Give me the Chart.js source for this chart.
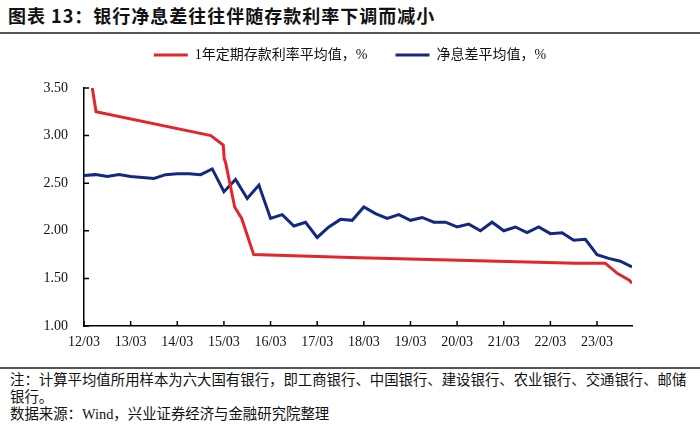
<!DOCTYPE html>
<html>
<head>
<meta charset="utf-8">
<script src="https://cdn.jsdelivr.net/npm/chart.js@4.4.0/dist/chart.umd.min.js"></script>
<style>
  body { margin: 0; width: 700px; height: 427px; background: #fff; position: relative; overflow: hidden;
         font-family: "Liberation Serif", "Noto Sans CJK SC", serif; color: #111; }
  #title { position: absolute; left: 8px; top: 2px; font-size: 18px; font-weight: bold; letter-spacing: 1px;
           font-family: "Noto Sans CJK SC", sans-serif; }
  #title-line { position: absolute; left: 0; top: 32px; width: 700px; height: 2px; background: #555; }
  #foot-line { position: absolute; left: 0; top: 367px; width: 700px; height: 2px; background: #555; }
  #foot { position: absolute; left: 10px; top: 372px; font-size: 14.4px; line-height: 17px;
          font-family: "Liberation Serif", "Noto Sans CJK SC", serif; }
  #wrap { position: absolute; left: 0; top: 20px; width: 700px; height: 340px; }
</style>
</head>
<body>
<div id="title">图表 13：银行净息差往往伴随存款利率下调而减小</div>
<div id="title-line"></div>
<div id="wrap"><canvas id="chart" width="700" height="340"></canvas></div>
<div id="foot-line"></div>
<div id="foot">注：计算平均值所用样本为六大国有银行，即工商银行、中国银行、建设银行、农业银行、交通银行、邮储<br>银行。<br>数据来源：Wind，兴业证券经济与金融研究院整理</div>
<script>
// --- Dữ liệu ---
const depositLabel = '1年定期存款利率平均值，%';
const nimLabel = '净息差平均值，%';

const depositDates = ['2012-05-05', '2012-06-04', '2014-11-20', '2015-02-26', '2015-03-03', '2015-03-15',
    '2015-05-24', '2015-07-18', '2015-10-21', '2017-11-15', '2020-03-15', '2022-09-15',
    '2023-05-04', '2023-08-10', '2023-11-10', '2023-12-01'];
const depositRates = [3.50, 3.25, 3.00, 2.90, 2.76, 2.71,
    2.25, 2.13, 1.75, 1.72, 1.69, 1.66,
    1.66, 1.55, 1.48, 1.45];

const nimQuarters = ['12/03', '12/06', '12/09', '12/12', '13/03', '13/06', '13/09', '13/12',
    '14/03', '14/06', '14/09', '14/12', '15/03', '15/06', '15/09', '15/12',
    '16/03', '16/06', '16/09', '16/12', '17/03', '17/06', '17/09', '17/12',
    '18/03', '18/06', '18/09', '18/12', '19/03', '19/06', '19/09', '19/12',
    '20/03', '20/06', '20/09', '20/12', '21/03', '21/06', '21/09', '21/12',
    '22/03', '22/06', '22/09', '22/12', '23/03', '23/06', '23/09', '23/12'];
const nimValues = [2.58, 2.59, 2.57, 2.59, 2.57, 2.56, 2.55, 2.59,
    2.60, 2.60, 2.59, 2.65, 2.41, 2.54, 2.34, 2.48,
    2.13, 2.17, 2.05, 2.09, 1.93, 2.04, 2.12, 2.11,
    2.25, 2.18, 2.13, 2.17, 2.11, 2.14, 2.09, 2.09,
    2.04, 2.07, 2.00, 2.09, 2.00, 2.04, 1.98, 2.04,
    1.97, 1.98, 1.90, 1.91, 1.75, 1.71, 1.68, 1.62];

const yTicks = [1.00, 1.50, 2.00, 2.50, 3.00, 3.50];
const xTickLabels = ['12/03', '13/03', '14/03', '15/03', '16/03', '17/03', '18/03', '19/03', '20/03', '21/03', '22/03', '23/03'];

// --- Chuyển ngày thành số tháng kể từ 2012/03 ---
function monthsFromDate(s) {
    const [y, m, d] = s.split('-').map(Number);
    return (y - 2012) * 12 + (m - 3) + (d - 1) / 30;
}
function monthsFromQuarter(s) {
    const [yy, mm] = s.split('/').map(Number);
    return (yy - 12) * 12 + (mm - 3);
}

const depositPoints = depositDates.map((d, i) => ({ x: monthsFromDate(d), y: depositRates[i] }));
const nimPoints = nimQuarters.map((q, i) => ({ x: monthsFromQuarter(q), y: nimValues[i] }));
const xMax = monthsFromQuarter(nimQuarters[nimQuarters.length - 1]);

const tickFont = { family: '"Liberation Serif", serif', size: 14 };

// Vạch chia hướng vào trong
const innerTicks = {
    id: 'innerTicks',
    afterDraw(chart) {
        const { ctx, chartArea } = chart;
        const xs = chart.scales.x, ys = chart.scales.y;
        ctx.save();
        ctx.strokeStyle = '#000';
        ctx.lineWidth = 1.5;
        ctx.beginPath();
        yTicks.forEach(v => {
            const py = ys.getPixelForValue(v);
            ctx.moveTo(chartArea.left, py);
            ctx.lineTo(chartArea.left + 5, py);
        });
        xTickLabels.forEach((_, i) => {
            const px = xs.getPixelForValue(i * 12);
            ctx.moveTo(px, chartArea.bottom);
            ctx.lineTo(px, chartArea.bottom - 5);
        });
        ctx.stroke();
        ctx.restore();
    }
};

// Chiều cao vùng chú thích
const legendSpace = {
    id: 'legendSpace',
    beforeInit(chart) {
        const fit = chart.legend.fit;
        chart.legend.fit = function () { fit.call(this); this.height = 68; };
    }
};

new Chart(document.getElementById('chart').getContext('2d'), {
    type: 'line',
    data: {
        datasets: [{
            label: depositLabel,
            data: depositPoints,
            borderColor: '#e3262b',
            backgroundColor: '#e3262b',
            borderWidth: 3,
            pointRadius: 0,
            tension: 0
        }, {
            label: nimLabel,
            data: nimPoints,
            borderColor: '#13287f',
            backgroundColor: '#13287f',
            borderWidth: 3,
            pointRadius: 0,
            tension: 0
        }]
    },
    options: {
        responsive: false,
        animation: false,
        layout: { padding: 0 },
        plugins: {
            tooltip: { enabled: false },
            legend: {
                position: 'top',
                labels: {
                    usePointStyle: true,
                    pointStyle: 'line',
                    pointStyleWidth: 34,
                    padding: 28,
                    color: '#111',
                    font: { family: '"Liberation Serif", "Noto Sans CJK SC", serif', size: 14 }
                }
            }
        },
        scales: {
            x: {
                type: 'linear',
                min: 0,
                max: xMax,
                afterFit: s => { s.height = 34; },
                grid: { drawOnChartArea: false, drawTicks: false },
                border: { color: '#000', width: 1.5 },
                ticks: {
                    stepSize: 12,
                    includeBounds: false,
                    padding: 8,
                    maxRotation: 0,
                    color: '#111',
                    font: tickFont,
                    callback: v => xTickLabels[v / 12]
                }
            },
            y: {
                min: 1,
                max: 3.5,
                afterFit: s => { s.width = 84; },
                grid: { drawOnChartArea: false, drawTicks: false },
                border: { color: '#000', width: 1.5 },
                ticks: {
                    stepSize: 0.5,
                    padding: 16,
                    color: '#111',
                    font: tickFont,
                    callback: v => v.toFixed(2)
                }
            },
            y2: {
                position: 'right',
                afterFit: s => { s.width = 68; },
                grid: { display: false },
                border: { display: false },
                ticks: { display: false }
            }
        }
    },
    plugins: [legendSpace, innerTicks]
});
</script>
</body>
</html>
